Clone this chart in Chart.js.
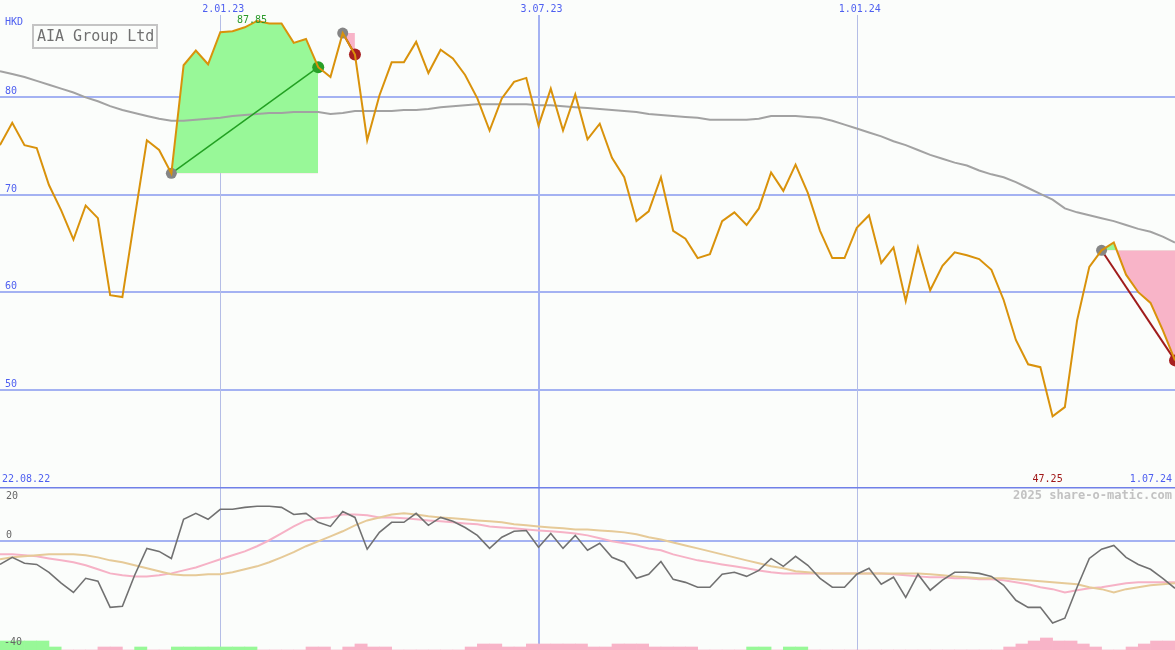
<!DOCTYPE html>
<html>
<head>
<meta charset="utf-8">
<title>AIA Group Ltd</title>
<script src="https://cdn.jsdelivr.net/npm/chart.js@4/dist/chart.umd.min.js"></script>
<style>
    body { margin: 0; background: #fbfdfb; }
    #wrap { position: relative; width: 1175px; height: 650px; }
    canvas { position: absolute; left: 0; }
</style>
</head>
<body>
<div id="wrap">
    <canvas id="priceChart" width="1175" height="487" style="top:0"></canvas>
    <canvas id="oscChart" width="1175" height="163" style="top:487px"></canvas>
</div>
<script>
// weekly closes, HKD
const prices = [
    75.1, 77.4, 75.1, 74.8, 71.0, 68.4, 65.4, 68.9, 67.6, 59.7,
    59.5, 67.6, 75.6, 74.6, 72.2, 83.3, 84.8, 83.4, 86.7, 86.8,
    87.2, 87.85, 87.6, 87.6, 85.6, 86.0, 83.1, 82.1, 86.6, 84.4,
    75.6, 80.2, 83.6, 83.6, 85.7, 82.5, 84.9, 84.0, 82.3, 79.9,
    76.6, 79.9, 81.6, 82.0, 77.1, 80.9, 76.6, 80.3, 75.7, 77.3,
    73.8, 71.8, 67.3, 68.3, 71.8, 66.3, 65.5, 63.5, 63.9, 67.3,
    68.2, 66.9, 68.6, 72.3, 70.4, 73.1, 70.2, 66.3, 63.5, 63.5,
    66.6, 67.9, 63.0, 64.6, 59.1, 64.6, 60.2, 62.7, 64.1, 63.8,
    63.4, 62.3, 59.2, 55.1, 52.6, 52.3, 47.25, 48.2, 57.1, 62.6,
    64.3, 65.1, 61.8, 60.0, 58.9, 56.1, 53.0
];

// long moving average
const movingAvg = [
    82.7, 82.4, 82.1, 81.7, 81.3, 80.9, 80.5, 80.0, 79.6, 79.1,
    78.7, 78.4, 78.1, 77.8, 77.6, 77.6, 77.7, 77.8, 77.9, 78.1,
    78.2, 78.3, 78.4, 78.4, 78.5, 78.5, 78.5, 78.3, 78.4, 78.6,
    78.6, 78.6, 78.6, 78.7, 78.7, 78.8, 79.0, 79.1, 79.2, 79.3,
    79.3, 79.3, 79.3, 79.3, 79.2, 79.2, 79.1, 79.0, 78.9, 78.8,
    78.7, 78.6, 78.5, 78.3, 78.2, 78.1, 78.0, 77.9, 77.7, 77.7,
    77.7, 77.7, 77.8, 78.1, 78.1, 78.1, 78.0, 77.9, 77.6, 77.2,
    76.8, 76.4, 76.0, 75.5, 75.1, 74.6, 74.1, 73.7, 73.3, 73.0,
    72.5, 72.1, 71.8, 71.3, 70.7, 70.1, 69.5, 68.6, 68.2, 67.9,
    67.6, 67.3, 66.9, 66.5, 66.2, 65.7, 65.1
];

// lower panel
const oscillator = [
    -8.5, -5.9, -8.1, -8.5, -11.4, -15.4, -18.8, -13.6, -14.7, -24.3,
    -23.9, -12.5, -2.6, -3.7, -6.3, 8.1, 10.3, 8.1, 11.8, 11.8,
    12.5, 12.9, 12.9, 12.5, 9.9, 10.3, 7.0, 5.5, 11.0, 8.8,
    -2.9, 3.3, 7.0, 7.0, 10.3, 5.9, 8.8, 7.4, 5.1, 2.2,
    -2.6, 1.5, 3.7, 4.0, -2.2, 2.9, -2.6, 2.2, -3.3, -0.7,
    -5.9, -7.7, -13.6, -12.1, -7.4, -14.0, -15.1, -16.9, -16.9, -12.1,
    -11.4, -12.9, -10.7, -6.3, -9.2, -5.5, -8.8, -13.6, -16.9, -16.9,
    -12.1, -9.9, -15.8, -13.2, -20.6, -12.1, -18.0, -14.3, -11.4, -11.4,
    -11.8, -12.9, -16.2, -21.7, -24.3, -24.3, -30.1, -28.3, -16.9, -6.3,
    -2.9, -1.5, -5.9, -8.5, -10.3, -13.6, -17.3
];

const signalFast = [
    -4.8, -4.8, -5.1, -5.5, -6.3, -7.0, -7.7, -8.8, -10.3, -11.8,
    -12.5, -12.9, -12.9, -12.5, -11.8, -10.7, -9.6, -8.1, -6.6, -5.1,
    -3.7, -1.8, 0.4, 2.9, 5.5, 7.7, 8.5, 8.8, 9.9, 9.9,
    9.6, 8.8, 8.8, 8.5, 8.1, 7.7, 7.4, 7.0, 6.6, 6.3,
    5.5, 5.1, 4.8, 4.4, 4.0, 3.7, 3.3, 2.9, 2.2, 1.1,
    0, -0.7, -1.5, -2.6, -3.3, -4.8, -5.9, -7.0, -7.7, -8.5,
    -9.2, -9.9, -10.7, -11.4, -11.8, -11.8, -11.8, -11.8, -11.8, -11.8,
    -11.8, -11.8, -11.8, -12.1, -12.5, -12.9, -13.2, -13.2, -13.6, -13.6,
    -14.0, -14.0, -14.3, -15.1, -15.8, -16.9, -17.6, -18.8, -18.0, -17.3,
    -16.9, -16.2, -15.4, -15.1, -15.1, -15.1, -15.1
];

const signalSlow = [
    -6.6, -5.9, -5.5, -5.1, -4.8, -4.8, -4.8, -5.1, -5.9, -7.0,
    -7.7, -8.8, -9.9, -11.0, -12.1, -12.5, -12.5, -12.1, -12.1, -11.4,
    -10.3, -9.2, -7.7, -5.9, -4.0, -1.8, 0, 1.8, 3.7, 5.9,
    7.7, 8.8, 9.9, 10.3, 9.9, 9.2, 8.8, 8.5, 8.1, 7.7,
    7.4, 7.0, 6.3, 5.9, 5.5, 5.1, 4.8, 4.4, 4.4, 4.0,
    3.7, 3.3, 2.6, 1.5, 0.7, -0.4, -1.5, -2.6, -3.7, -4.8,
    -5.9, -7.0, -8.1, -9.2, -9.9, -11.0, -11.4, -11.8, -11.8, -11.8,
    -11.8, -11.8, -11.8, -11.8, -11.8, -11.8, -12.1, -12.5, -12.9, -13.2,
    -13.6, -13.6, -13.6, -14.0, -14.3, -14.7, -15.1, -15.4, -15.8, -16.9,
    -17.6, -18.8, -17.6, -16.9, -16.2, -15.8, -15.4
];

// strength bars: + green, - pink
const barLevels = [
    3, 3, 3, 3, 1, 0, 0, 0, -1, -1,
    0, 1, 0, 0, 1, 1, 1, 1, 1, 1,
    1, 0, 0, 0, 0, -1, -1, 0, -1, -2,
    -1, -1, 0, 0, 0, 0, 0, 0, -1, -2,
    -2, -1, -1, -2, -2, -2, -2, -2, -1, -1,
    -2, -2, -2, -1, -1, -1, -1, 0, 0, 0,
    0, 1, 1, 0, 1, 1, 0, 0, 0, 0,
    0, 0, 0, 0, 0, 0, 0, 0, 0, 0,
    0, 0, -1, -2, -3, -4, -3, -3, -2, -1,
    0, 0, -1, -2, -3, -3, 0
];

// trades (week index)
const tradeStart = [14, 28, 90];
const tradeEnd = [26, 29, 96];

const priceGrid = [50, 60, 70, 80];
const dateTicks = ['2.01.23', '3.07.23', '1.01.24'];
const dateTickIndex = [18, 44, 70];
const firstDate = '22.08.22';
const lastDate = '1.07.24';

const weeks = [];
for (let d = new Date(2022, 7, 29); weeks.length < prices.length; d.setDate(d.getDate() + 7)) {
    weeks.push(d.getDate() + '.' + String(d.getMonth() + 1).padStart(2, '0') + '.' + String(d.getFullYear()).slice(2));
}

const bg = '#fbfdfb';
const gridBlue = '#a4b2f2';
const textBlue = '#4e5ff0';
const mono = '"DejaVu Sans Mono", "Liberation Mono", monospace';
const green = '#98f898';
const pink = '#f8b4c8';

function onlyRange(arr, a, b) {
    return arr.map((v, i) => (i >= a && i <= b ? v : null));
}

function drawVerticals(chart, top) {
    const { ctx, scales: { x }, chartArea } = chart;
    dateTickIndex.forEach((idx, k) => {
        const px = Math.round(x.getPixelForValue(idx));
        const thick = k === 1;
        ctx.strokeStyle = thick ? gridBlue : '#b4bde6';
        ctx.lineWidth = thick ? 2 : 1;
        ctx.beginPath();
        ctx.moveTo(px + (thick ? 0 : 0.5), top);
        ctx.lineTo(px + (thick ? 0 : 0.5), chartArea.bottom);
        ctx.stroke();
    });
}

const priceDecor = {
    id: 'priceDecor',
    beforeDraw(chart) {
        const { ctx, width, height } = chart;
        ctx.save();
        ctx.fillStyle = bg;
        ctx.fillRect(0, 0, width, height);
        ctx.restore();
    },
    beforeDatasetsDraw(chart) {
        const { ctx, scales: { y }, chartArea } = chart;
        ctx.save();
        ctx.strokeStyle = gridBlue;
        ctx.lineWidth = 2;
        priceGrid.forEach(v => {
            const py = Math.round(y.getPixelForValue(v));
            ctx.beginPath();
            ctx.moveTo(0, py);
            ctx.lineTo(chartArea.right, py);
            ctx.stroke();
        });
        drawVerticals(chart, 15);
        ctx.restore();
    },
    afterDatasetsDraw(chart) {
        const { ctx, scales: { x, y }, chartArea } = chart;
        ctx.save();
        ctx.font = '10px ' + mono;
        ctx.fillStyle = textBlue;
        ctx.textBaseline = 'alphabetic';
        ctx.textAlign = 'left';
        priceGrid.forEach(v => {
            ctx.fillText(String(v), 5, Math.round(y.getPixelForValue(v)) - 3);
        });
        ctx.fillText('HKD', 5, 25);

        ctx.textAlign = 'center';
        ctx.textBaseline = 'middle';
        dateTicks.forEach((t, k) => {
            ctx.fillText(t, x.getPixelForValue(dateTickIndex[k]) + 3, 9);
        });

        ctx.textAlign = 'left';
        ctx.fillText(firstDate, 2, 479);
        ctx.textAlign = 'right';
        ctx.fillText(lastDate, chartArea.right - 3, 479);

        const hi = prices.indexOf(Math.max(...prices));
        const lo = prices.indexOf(Math.min(...prices));
        ctx.textAlign = 'center';
        ctx.fillStyle = '#2a9a2a';
        ctx.fillText(Math.max(...prices).toFixed(2), x.getPixelForValue(hi) - 5, 20);
        ctx.fillStyle = '#a01818';
        ctx.fillText(Math.min(...prices).toFixed(2), x.getPixelForValue(lo) - 5, 479);

        // name box
        ctx.strokeStyle = '#c4c4c4';
        ctx.lineWidth = 2;
        ctx.fillStyle = bg;
        ctx.fillRect(33, 25, 124, 23);
        ctx.strokeRect(33, 25, 124, 23);
        ctx.fillStyle = '#707070';
        ctx.font = '15px ' + mono;
        ctx.textAlign = 'left';
        ctx.fillText('AIA Group Ltd', 37, 37);
        ctx.restore();
    }
};

const tradeDatasets = [];
tradeStart.forEach((s, k) => {
    const e = tradeEnd[k];
    const win = prices[e] >= prices[s];
    // shaded area against the entry price
    tradeDatasets.push({
        data: onlyRange(prices, s, e),
        borderWidth: 0,
        pointRadius: 0,
        fill: { target: { value: prices[s] }, above: green, below: pink },
        order: 5
    });
    // entry -> exit line
    tradeDatasets.push({
        data: prices.map((v, i) => (i === s || i === e ? v : null)),
        spanGaps: true,
        borderColor: win ? '#22a022' : '#a01c1c',
        borderWidth: win ? 1.5 : 2,
        pointRadius: 0,
        fill: false,
        order: 2
    });
});

new Chart(document.getElementById('priceChart'), {
    type: 'line',
    data: {
        labels: weeks,
        datasets: [
            {
                label: 'AIA Group Ltd',
                data: prices,
                borderColor: '#d9920b',
                borderWidth: 2,
                pointRadius: 0,
                tension: 0,
                fill: false,
                order: 0
            },
            {
                label: 'entry',
                data: prices.map((v, i) => (tradeStart.includes(i) ? v : null)),
                showLine: false,
                pointRadius: 5.5,
                pointBorderWidth: 0,
                pointBackgroundColor: '#858585',
                order: 1
            },
            {
                label: 'exit',
                data: prices.map((v, i) => (tradeEnd.includes(i) ? v : null)),
                showLine: false,
                pointRadius: 6,
                pointBorderWidth: 0,
                pointBackgroundColor: ctx => {
                    const k = tradeEnd.indexOf(ctx.dataIndex);
                    return k >= 0 && prices[tradeEnd[k]] >= prices[tradeStart[k]] ? '#28a028' : '#a82020';
                },
                order: 1
            },
            {
                label: 'average',
                data: movingAvg,
                borderColor: '#a2a2a2',
                borderWidth: 2,
                pointRadius: 0,
                fill: false,
                order: 3
            },
            ...tradeDatasets
        ]
    },
    options: {
        responsive: false,
        devicePixelRatio: 1,
        animation: false,
        events: [],
        layout: { padding: 0, autoPadding: false },
        plugins: { legend: { display: false }, tooltip: { enabled: false } },
        scales: {
            x: { type: 'category', offset: false, display: false },
            y: { min: 40, max: 90, display: false }
        }
    },
    plugins: [priceDecor]
});

const oscDecor = {
    id: 'oscDecor',
    beforeDraw(chart) {
        const { ctx, width, height } = chart;
        ctx.save();
        ctx.fillStyle = bg;
        ctx.fillRect(0, 0, width, height);
        ctx.restore();
    },
    beforeDatasetsDraw(chart) {
        const { ctx, scales: { y }, chartArea } = chart;
        ctx.save();
        drawVerticals(chart, 0);
        ctx.strokeStyle = gridBlue;
        ctx.lineWidth = 2;
        const zy = Math.round(y.getPixelForValue(0));
        ctx.beginPath();
        ctx.moveTo(0, zy);
        ctx.lineTo(chartArea.right, zy);
        ctx.stroke();
        ctx.restore();
    },
    afterDatasetsDraw(chart) {
        const { ctx, chartArea } = chart;
        ctx.save();
        // panel separator
        ctx.strokeStyle = '#7080e8';
        ctx.lineWidth = 2;
        ctx.beginPath();
        ctx.moveTo(0, 0.5);
        ctx.lineTo(chartArea.right, 0.5);
        ctx.stroke();

        ctx.font = '10px ' + mono;
        ctx.fillStyle = '#666666';
        ctx.textAlign = 'left';
        ctx.textBaseline = 'middle';
        ctx.fillText('20', 6, 9);
        ctx.fillText('0', 6, 48);
        ctx.fillText('-40', 4, 155);

        ctx.font = 'bold 12px ' + mono;
        ctx.fillStyle = '#c2c2c2';
        ctx.textAlign = 'right';
        ctx.fillText('2025 share-o-matic.com', chartArea.right - 3, 9);
        ctx.restore();
    }
};

new Chart(document.getElementById('oscChart'), {
    type: 'line',
    data: {
        datasets: [
            {
                data: oscillator.map((v, i) => ({ x: i, y: v })),
                borderColor: '#717171',
                borderWidth: 1.6,
                pointRadius: 0,
                fill: false,
                order: 0
            },
            {
                data: signalSlow.map((v, i) => ({ x: i, y: v })),
                borderColor: '#e6ca98',
                borderWidth: 2,
                pointRadius: 0,
                fill: false,
                order: 1
            },
            {
                data: signalFast.map((v, i) => ({ x: i, y: v })),
                borderColor: '#f6b2c6',
                borderWidth: 2,
                pointRadius: 0,
                fill: false,
                order: 2
            },
            {
                type: 'bar',
                yAxisID: 'yb',
                data: barLevels.map((v, i) => ({ x: i + 0.5, y: Math.abs(v) })),
                backgroundColor: barLevels.map(v => (v > 0 ? green : pink)),
                borderWidth: 0,
                barPercentage: 1,
                categoryPercentage: 1,
                order: 3
            }
        ]
    },
    options: {
        responsive: false,
        devicePixelRatio: 1,
        animation: false,
        events: [],
        layout: { padding: 0, autoPadding: false },
        plugins: { legend: { display: false }, tooltip: { enabled: false } },
        scales: {
            x: { type: 'linear', min: 0, max: prices.length - 1, offset: false, display: false },
            y: { min: -40, max: 20, display: false },
            yb: { min: 0, max: 163 / 3, display: false }
        }
    },
    plugins: [oscDecor]
});
</script>
</body>
</html>
